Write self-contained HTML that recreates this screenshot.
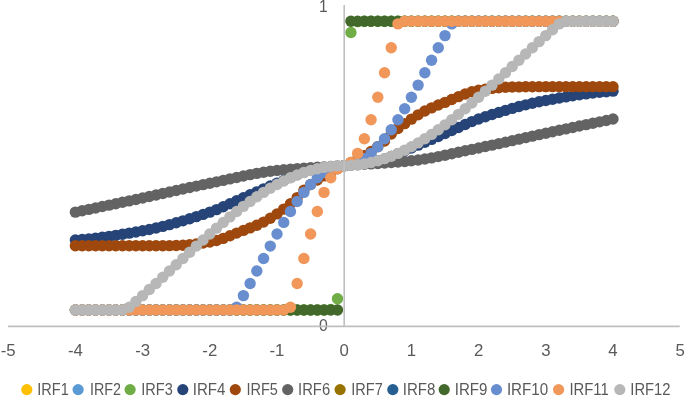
<!DOCTYPE html>
<html><head><meta charset="utf-8"><style>
html,body{margin:0;padding:0;background:#fff;}
svg{display:block;will-change:transform;}
text{font-family:"Liberation Sans",sans-serif;fill:#595959;}
</style></head><body>
<svg width="685" height="396" viewBox="0 0 685 396">
<rect width="685" height="396" fill="#fff"/>
<g font-size="16.8">
<text x="8.2" y="355.8" text-anchor="middle">-5</text><text x="75.4" y="355.8" text-anchor="middle">-4</text><text x="142.6" y="355.8" text-anchor="middle">-3</text><text x="209.8" y="355.8" text-anchor="middle">-2</text><text x="277.0" y="355.8" text-anchor="middle">-1</text><text x="344.2" y="355.8" text-anchor="middle">0</text><text x="411.4" y="355.8" text-anchor="middle">1</text><text x="478.6" y="355.8" text-anchor="middle">2</text><text x="545.8" y="355.8" text-anchor="middle">3</text><text x="613.0" y="355.8" text-anchor="middle">4</text><text x="680.2" y="355.8" text-anchor="middle">5</text>
<text x="327.6" y="11.9" text-anchor="end" font-size="15.6">1</text>
<text x="327.8" y="331.2" text-anchor="end" font-size="15.8">0</text>
</g>
<g fill="#70AD47"><circle cx="75.40" cy="310.00" r="5.7"/><circle cx="82.12" cy="310.00" r="5.7"/><circle cx="88.84" cy="310.00" r="5.7"/><circle cx="95.56" cy="310.00" r="5.7"/><circle cx="102.28" cy="310.00" r="5.7"/><circle cx="109.00" cy="310.00" r="5.7"/><circle cx="115.72" cy="310.00" r="5.7"/><circle cx="122.44" cy="310.00" r="5.7"/><circle cx="129.16" cy="310.00" r="5.7"/><circle cx="135.88" cy="310.00" r="5.7"/><circle cx="142.60" cy="310.00" r="5.7"/><circle cx="149.32" cy="310.00" r="5.7"/><circle cx="156.04" cy="310.00" r="5.7"/><circle cx="162.76" cy="310.00" r="5.7"/><circle cx="169.48" cy="310.00" r="5.7"/><circle cx="176.20" cy="310.00" r="5.7"/><circle cx="182.92" cy="310.00" r="5.7"/><circle cx="189.64" cy="310.00" r="5.7"/><circle cx="196.36" cy="310.00" r="5.7"/><circle cx="203.08" cy="310.00" r="5.7"/><circle cx="209.80" cy="310.00" r="5.7"/><circle cx="216.52" cy="310.00" r="5.7"/><circle cx="223.24" cy="310.00" r="5.7"/><circle cx="229.96" cy="310.00" r="5.7"/><circle cx="236.68" cy="310.00" r="5.7"/><circle cx="243.40" cy="310.00" r="5.7"/><circle cx="250.12" cy="310.00" r="5.7"/><circle cx="256.84" cy="310.00" r="5.7"/><circle cx="263.56" cy="310.00" r="5.7"/><circle cx="270.28" cy="310.00" r="5.7"/><circle cx="277.00" cy="310.00" r="5.7"/><circle cx="283.72" cy="310.00" r="5.7"/><circle cx="290.44" cy="310.00" r="5.7"/><circle cx="297.16" cy="310.00" r="5.7"/><circle cx="303.88" cy="310.00" r="5.7"/><circle cx="310.60" cy="310.00" r="5.7"/><circle cx="317.32" cy="310.00" r="5.7"/><circle cx="324.04" cy="309.99" r="5.7"/><circle cx="330.76" cy="309.53" r="5.7"/><circle cx="337.48" cy="298.69" r="5.7"/><circle cx="344.20" cy="165.60" r="5.7"/><circle cx="350.92" cy="32.51" r="5.7"/><circle cx="357.64" cy="21.67" r="5.7"/><circle cx="364.36" cy="21.21" r="5.7"/><circle cx="371.08" cy="21.20" r="5.7"/><circle cx="377.80" cy="21.20" r="5.7"/><circle cx="384.52" cy="21.20" r="5.7"/><circle cx="391.24" cy="21.20" r="5.7"/><circle cx="397.96" cy="21.20" r="5.7"/><circle cx="404.68" cy="21.20" r="5.7"/><circle cx="411.40" cy="21.20" r="5.7"/><circle cx="418.12" cy="21.20" r="5.7"/><circle cx="424.84" cy="21.19" r="5.7"/><circle cx="431.56" cy="21.19" r="5.7"/><circle cx="438.28" cy="21.19" r="5.7"/><circle cx="445.00" cy="21.19" r="5.7"/><circle cx="451.72" cy="21.19" r="5.7"/><circle cx="458.44" cy="21.19" r="5.7"/><circle cx="465.16" cy="21.19" r="5.7"/><circle cx="471.88" cy="21.19" r="5.7"/><circle cx="478.60" cy="21.19" r="5.7"/><circle cx="485.32" cy="21.19" r="5.7"/><circle cx="492.04" cy="21.19" r="5.7"/><circle cx="498.76" cy="21.19" r="5.7"/><circle cx="505.48" cy="21.19" r="5.7"/><circle cx="512.20" cy="21.19" r="5.7"/><circle cx="518.92" cy="21.19" r="5.7"/><circle cx="525.64" cy="21.19" r="5.7"/><circle cx="532.36" cy="21.19" r="5.7"/><circle cx="539.08" cy="21.19" r="5.7"/><circle cx="545.80" cy="21.19" r="5.7"/><circle cx="552.52" cy="21.19" r="5.7"/><circle cx="559.24" cy="21.19" r="5.7"/><circle cx="565.96" cy="21.19" r="5.7"/><circle cx="572.68" cy="21.19" r="5.7"/><circle cx="579.40" cy="21.19" r="5.7"/><circle cx="586.12" cy="21.19" r="5.7"/><circle cx="592.84" cy="21.19" r="5.7"/><circle cx="599.56" cy="21.19" r="5.7"/><circle cx="606.28" cy="21.19" r="5.7"/><circle cx="613.00" cy="21.19" r="5.7"/></g><g fill="#264478"><circle cx="75.40" cy="240.05" r="5.7"/><circle cx="82.12" cy="239.52" r="5.7"/><circle cx="88.84" cy="238.88" r="5.7"/><circle cx="95.56" cy="238.14" r="5.7"/><circle cx="102.28" cy="237.29" r="5.7"/><circle cx="109.00" cy="236.37" r="5.7"/><circle cx="115.72" cy="235.36" r="5.7"/><circle cx="122.44" cy="234.28" r="5.7"/><circle cx="129.16" cy="233.15" r="5.7"/><circle cx="135.88" cy="231.97" r="5.7"/><circle cx="142.60" cy="230.74" r="5.7"/><circle cx="149.32" cy="229.43" r="5.7"/><circle cx="156.04" cy="227.96" r="5.7"/><circle cx="162.76" cy="226.36" r="5.7"/><circle cx="169.48" cy="224.63" r="5.7"/><circle cx="176.20" cy="222.78" r="5.7"/><circle cx="182.92" cy="220.83" r="5.7"/><circle cx="189.64" cy="218.78" r="5.7"/><circle cx="196.36" cy="216.64" r="5.7"/><circle cx="203.08" cy="214.42" r="5.7"/><circle cx="209.80" cy="212.13" r="5.7"/><circle cx="216.52" cy="209.61" r="5.7"/><circle cx="223.24" cy="206.76" r="5.7"/><circle cx="229.96" cy="203.74" r="5.7"/><circle cx="236.68" cy="200.67" r="5.7"/><circle cx="243.40" cy="197.69" r="5.7"/><circle cx="250.12" cy="194.77" r="5.7"/><circle cx="256.84" cy="191.83" r="5.7"/><circle cx="263.56" cy="188.90" r="5.7"/><circle cx="270.28" cy="186.03" r="5.7"/><circle cx="277.00" cy="183.25" r="5.7"/><circle cx="283.72" cy="180.40" r="5.7"/><circle cx="290.44" cy="177.45" r="5.7"/><circle cx="297.16" cy="174.64" r="5.7"/><circle cx="303.88" cy="172.21" r="5.7"/><circle cx="310.60" cy="170.41" r="5.7"/><circle cx="317.32" cy="169.17" r="5.7"/><circle cx="324.04" cy="168.17" r="5.7"/><circle cx="330.76" cy="167.32" r="5.7"/><circle cx="337.48" cy="166.49" r="5.7"/><circle cx="344.20" cy="165.60" r="5.7"/><circle cx="350.92" cy="164.71" r="5.7"/><circle cx="357.64" cy="163.88" r="5.7"/><circle cx="364.36" cy="163.03" r="5.7"/><circle cx="371.08" cy="162.03" r="5.7"/><circle cx="377.80" cy="160.79" r="5.7"/><circle cx="384.52" cy="158.99" r="5.7"/><circle cx="391.24" cy="156.56" r="5.7"/><circle cx="397.96" cy="153.75" r="5.7"/><circle cx="404.68" cy="150.80" r="5.7"/><circle cx="411.40" cy="147.95" r="5.7"/><circle cx="418.12" cy="145.17" r="5.7"/><circle cx="424.84" cy="142.30" r="5.7"/><circle cx="431.56" cy="139.37" r="5.7"/><circle cx="438.28" cy="136.43" r="5.7"/><circle cx="445.00" cy="133.51" r="5.7"/><circle cx="451.72" cy="130.53" r="5.7"/><circle cx="458.44" cy="127.46" r="5.7"/><circle cx="465.16" cy="124.44" r="5.7"/><circle cx="471.88" cy="121.59" r="5.7"/><circle cx="478.60" cy="119.07" r="5.7"/><circle cx="485.32" cy="116.78" r="5.7"/><circle cx="492.04" cy="114.56" r="5.7"/><circle cx="498.76" cy="112.42" r="5.7"/><circle cx="505.48" cy="110.37" r="5.7"/><circle cx="512.20" cy="108.42" r="5.7"/><circle cx="518.92" cy="106.57" r="5.7"/><circle cx="525.64" cy="104.84" r="5.7"/><circle cx="532.36" cy="103.24" r="5.7"/><circle cx="539.08" cy="101.77" r="5.7"/><circle cx="545.80" cy="100.46" r="5.7"/><circle cx="552.52" cy="99.23" r="5.7"/><circle cx="559.24" cy="98.05" r="5.7"/><circle cx="565.96" cy="96.92" r="5.7"/><circle cx="572.68" cy="95.84" r="5.7"/><circle cx="579.40" cy="94.83" r="5.7"/><circle cx="586.12" cy="93.91" r="5.7"/><circle cx="592.84" cy="93.06" r="5.7"/><circle cx="599.56" cy="92.32" r="5.7"/><circle cx="606.28" cy="91.68" r="5.7"/><circle cx="613.00" cy="91.15" r="5.7"/></g><g fill="#9E480E"><circle cx="75.40" cy="245.82" r="5.7"/><circle cx="82.12" cy="245.82" r="5.7"/><circle cx="88.84" cy="245.82" r="5.7"/><circle cx="95.56" cy="245.82" r="5.7"/><circle cx="102.28" cy="245.82" r="5.7"/><circle cx="109.00" cy="245.82" r="5.7"/><circle cx="115.72" cy="245.82" r="5.7"/><circle cx="122.44" cy="245.82" r="5.7"/><circle cx="129.16" cy="245.82" r="5.7"/><circle cx="135.88" cy="245.82" r="5.7"/><circle cx="142.60" cy="245.82" r="5.7"/><circle cx="149.32" cy="245.81" r="5.7"/><circle cx="156.04" cy="245.77" r="5.7"/><circle cx="162.76" cy="245.70" r="5.7"/><circle cx="169.48" cy="245.61" r="5.7"/><circle cx="176.20" cy="245.50" r="5.7"/><circle cx="182.92" cy="245.23" r="5.7"/><circle cx="189.64" cy="244.70" r="5.7"/><circle cx="196.36" cy="243.94" r="5.7"/><circle cx="203.08" cy="243.01" r="5.7"/><circle cx="209.80" cy="241.97" r="5.7"/><circle cx="216.52" cy="240.49" r="5.7"/><circle cx="223.24" cy="238.35" r="5.7"/><circle cx="229.96" cy="235.80" r="5.7"/><circle cx="236.68" cy="233.08" r="5.7"/><circle cx="243.40" cy="230.42" r="5.7"/><circle cx="250.12" cy="227.88" r="5.7"/><circle cx="256.84" cy="225.18" r="5.7"/><circle cx="263.56" cy="222.08" r="5.7"/><circle cx="270.28" cy="218.31" r="5.7"/><circle cx="277.00" cy="213.91" r="5.7"/><circle cx="283.72" cy="209.10" r="5.7"/><circle cx="290.44" cy="203.79" r="5.7"/><circle cx="297.16" cy="197.61" r="5.7"/><circle cx="303.88" cy="190.26" r="5.7"/><circle cx="310.60" cy="184.58" r="5.7"/><circle cx="317.32" cy="179.94" r="5.7"/><circle cx="324.04" cy="175.86" r="5.7"/><circle cx="330.76" cy="172.12" r="5.7"/><circle cx="337.48" cy="168.80" r="5.7"/><circle cx="344.20" cy="165.60" r="5.7"/><circle cx="350.92" cy="162.50" r="5.7"/><circle cx="357.64" cy="159.35" r="5.7"/><circle cx="364.36" cy="155.65" r="5.7"/><circle cx="371.08" cy="151.42" r="5.7"/><circle cx="377.80" cy="146.63" r="5.7"/><circle cx="384.52" cy="141.01" r="5.7"/><circle cx="391.24" cy="134.07" r="5.7"/><circle cx="397.96" cy="128.46" r="5.7"/><circle cx="404.68" cy="123.63" r="5.7"/><circle cx="411.40" cy="119.15" r="5.7"/><circle cx="418.12" cy="114.84" r="5.7"/><circle cx="424.84" cy="111.05" r="5.7"/><circle cx="431.56" cy="107.88" r="5.7"/><circle cx="438.28" cy="105.05" r="5.7"/><circle cx="445.00" cy="102.38" r="5.7"/><circle cx="451.72" cy="99.57" r="5.7"/><circle cx="458.44" cy="96.66" r="5.7"/><circle cx="465.16" cy="93.93" r="5.7"/><circle cx="471.88" cy="91.68" r="5.7"/><circle cx="478.60" cy="90.19" r="5.7"/><circle cx="485.32" cy="89.22" r="5.7"/><circle cx="492.04" cy="88.38" r="5.7"/><circle cx="498.76" cy="87.71" r="5.7"/><circle cx="505.48" cy="87.23" r="5.7"/><circle cx="512.20" cy="86.98" r="5.7"/><circle cx="518.92" cy="86.87" r="5.7"/><circle cx="525.64" cy="86.78" r="5.7"/><circle cx="532.36" cy="86.72" r="5.7"/><circle cx="539.08" cy="86.67" r="5.7"/><circle cx="545.80" cy="86.66" r="5.7"/><circle cx="552.52" cy="86.66" r="5.7"/><circle cx="559.24" cy="86.66" r="5.7"/><circle cx="565.96" cy="86.66" r="5.7"/><circle cx="572.68" cy="86.66" r="5.7"/><circle cx="579.40" cy="86.66" r="5.7"/><circle cx="586.12" cy="86.66" r="5.7"/><circle cx="592.84" cy="86.66" r="5.7"/><circle cx="599.56" cy="86.66" r="5.7"/><circle cx="606.28" cy="86.66" r="5.7"/><circle cx="613.00" cy="86.66" r="5.7"/></g><g fill="#636363"><circle cx="75.40" cy="212.13" r="5.7"/><circle cx="82.12" cy="210.75" r="5.7"/><circle cx="88.84" cy="209.36" r="5.7"/><circle cx="95.56" cy="207.96" r="5.7"/><circle cx="102.28" cy="206.56" r="5.7"/><circle cx="109.00" cy="205.15" r="5.7"/><circle cx="115.72" cy="203.73" r="5.7"/><circle cx="122.44" cy="202.31" r="5.7"/><circle cx="129.16" cy="200.89" r="5.7"/><circle cx="135.88" cy="199.45" r="5.7"/><circle cx="142.60" cy="198.01" r="5.7"/><circle cx="149.32" cy="196.55" r="5.7"/><circle cx="156.04" cy="195.07" r="5.7"/><circle cx="162.76" cy="193.57" r="5.7"/><circle cx="169.48" cy="192.05" r="5.7"/><circle cx="176.20" cy="190.54" r="5.7"/><circle cx="182.92" cy="189.04" r="5.7"/><circle cx="189.64" cy="187.55" r="5.7"/><circle cx="196.36" cy="186.08" r="5.7"/><circle cx="203.08" cy="184.65" r="5.7"/><circle cx="209.80" cy="183.25" r="5.7"/><circle cx="216.52" cy="181.84" r="5.7"/><circle cx="223.24" cy="180.38" r="5.7"/><circle cx="229.96" cy="178.90" r="5.7"/><circle cx="236.68" cy="177.43" r="5.7"/><circle cx="243.40" cy="175.99" r="5.7"/><circle cx="250.12" cy="174.62" r="5.7"/><circle cx="256.84" cy="173.35" r="5.7"/><circle cx="263.56" cy="172.21" r="5.7"/><circle cx="270.28" cy="171.22" r="5.7"/><circle cx="277.00" cy="170.41" r="5.7"/><circle cx="283.72" cy="169.75" r="5.7"/><circle cx="290.44" cy="169.17" r="5.7"/><circle cx="297.16" cy="168.65" r="5.7"/><circle cx="303.88" cy="168.17" r="5.7"/><circle cx="310.60" cy="167.73" r="5.7"/><circle cx="317.32" cy="167.32" r="5.7"/><circle cx="324.04" cy="166.91" r="5.7"/><circle cx="330.76" cy="166.49" r="5.7"/><circle cx="337.48" cy="166.06" r="5.7"/><circle cx="344.20" cy="165.60" r="5.7"/><circle cx="350.92" cy="165.14" r="5.7"/><circle cx="357.64" cy="164.71" r="5.7"/><circle cx="364.36" cy="164.29" r="5.7"/><circle cx="371.08" cy="163.88" r="5.7"/><circle cx="377.80" cy="163.47" r="5.7"/><circle cx="384.52" cy="163.03" r="5.7"/><circle cx="391.24" cy="162.55" r="5.7"/><circle cx="397.96" cy="162.03" r="5.7"/><circle cx="404.68" cy="161.45" r="5.7"/><circle cx="411.40" cy="160.79" r="5.7"/><circle cx="418.12" cy="159.98" r="5.7"/><circle cx="424.84" cy="158.99" r="5.7"/><circle cx="431.56" cy="157.85" r="5.7"/><circle cx="438.28" cy="156.58" r="5.7"/><circle cx="445.00" cy="155.21" r="5.7"/><circle cx="451.72" cy="153.77" r="5.7"/><circle cx="458.44" cy="152.30" r="5.7"/><circle cx="465.16" cy="150.82" r="5.7"/><circle cx="471.88" cy="149.36" r="5.7"/><circle cx="478.60" cy="147.95" r="5.7"/><circle cx="485.32" cy="146.55" r="5.7"/><circle cx="492.04" cy="145.12" r="5.7"/><circle cx="498.76" cy="143.65" r="5.7"/><circle cx="505.48" cy="142.16" r="5.7"/><circle cx="512.20" cy="140.66" r="5.7"/><circle cx="518.92" cy="139.15" r="5.7"/><circle cx="525.64" cy="137.63" r="5.7"/><circle cx="532.36" cy="136.13" r="5.7"/><circle cx="539.08" cy="134.65" r="5.7"/><circle cx="545.80" cy="133.19" r="5.7"/><circle cx="552.52" cy="131.75" r="5.7"/><circle cx="559.24" cy="130.31" r="5.7"/><circle cx="565.96" cy="128.89" r="5.7"/><circle cx="572.68" cy="127.47" r="5.7"/><circle cx="579.40" cy="126.05" r="5.7"/><circle cx="586.12" cy="124.64" r="5.7"/><circle cx="592.84" cy="123.24" r="5.7"/><circle cx="599.56" cy="121.84" r="5.7"/><circle cx="606.28" cy="120.45" r="5.7"/><circle cx="613.00" cy="119.07" r="5.7"/></g><g fill="#43682B"><circle cx="75.40" cy="310.00" r="5.7"/><circle cx="82.12" cy="310.00" r="5.7"/><circle cx="88.84" cy="310.00" r="5.7"/><circle cx="95.56" cy="310.00" r="5.7"/><circle cx="102.28" cy="310.00" r="5.7"/><circle cx="109.00" cy="310.00" r="5.7"/><circle cx="115.72" cy="310.00" r="5.7"/><circle cx="122.44" cy="310.00" r="5.7"/><circle cx="129.16" cy="310.00" r="5.7"/><circle cx="135.88" cy="310.00" r="5.7"/><circle cx="142.60" cy="310.00" r="5.7"/><circle cx="149.32" cy="310.00" r="5.7"/><circle cx="156.04" cy="310.00" r="5.7"/><circle cx="162.76" cy="310.00" r="5.7"/><circle cx="169.48" cy="310.00" r="5.7"/><circle cx="176.20" cy="310.00" r="5.7"/><circle cx="182.92" cy="310.00" r="5.7"/><circle cx="189.64" cy="310.00" r="5.7"/><circle cx="196.36" cy="310.00" r="5.7"/><circle cx="203.08" cy="310.00" r="5.7"/><circle cx="209.80" cy="310.00" r="5.7"/><circle cx="216.52" cy="310.00" r="5.7"/><circle cx="223.24" cy="310.00" r="5.7"/><circle cx="229.96" cy="310.00" r="5.7"/><circle cx="236.68" cy="310.00" r="5.7"/><circle cx="243.40" cy="310.00" r="5.7"/><circle cx="250.12" cy="310.00" r="5.7"/><circle cx="256.84" cy="310.00" r="5.7"/><circle cx="263.56" cy="310.00" r="5.7"/><circle cx="270.28" cy="310.00" r="5.7"/><circle cx="277.00" cy="310.00" r="5.7"/><circle cx="283.72" cy="310.00" r="5.7"/><circle cx="290.44" cy="310.00" r="5.7"/><circle cx="297.16" cy="310.00" r="5.7"/><circle cx="303.88" cy="310.00" r="5.7"/><circle cx="310.60" cy="310.00" r="5.7"/><circle cx="317.32" cy="310.00" r="5.7"/><circle cx="324.04" cy="310.00" r="5.7"/><circle cx="330.76" cy="310.00" r="5.7"/><circle cx="337.48" cy="310.00" r="5.7"/><circle cx="344.20" cy="165.60" r="5.7"/><circle cx="350.92" cy="21.20" r="5.7"/><circle cx="357.64" cy="21.20" r="5.7"/><circle cx="364.36" cy="21.20" r="5.7"/><circle cx="371.08" cy="21.20" r="5.7"/><circle cx="377.80" cy="21.20" r="5.7"/><circle cx="384.52" cy="21.20" r="5.7"/><circle cx="391.24" cy="21.20" r="5.7"/><circle cx="397.96" cy="21.20" r="5.7"/><circle cx="404.68" cy="21.20" r="5.7"/><circle cx="411.40" cy="21.20" r="5.7"/><circle cx="418.12" cy="21.20" r="5.7"/><circle cx="424.84" cy="21.20" r="5.7"/><circle cx="431.56" cy="21.20" r="5.7"/><circle cx="438.28" cy="21.20" r="5.7"/><circle cx="445.00" cy="21.20" r="5.7"/><circle cx="451.72" cy="21.20" r="5.7"/><circle cx="458.44" cy="21.20" r="5.7"/><circle cx="465.16" cy="21.20" r="5.7"/><circle cx="471.88" cy="21.20" r="5.7"/><circle cx="478.60" cy="21.20" r="5.7"/><circle cx="485.32" cy="21.20" r="5.7"/><circle cx="492.04" cy="21.20" r="5.7"/><circle cx="498.76" cy="21.20" r="5.7"/><circle cx="505.48" cy="21.20" r="5.7"/><circle cx="512.20" cy="21.20" r="5.7"/><circle cx="518.92" cy="21.20" r="5.7"/><circle cx="525.64" cy="21.20" r="5.7"/><circle cx="532.36" cy="21.20" r="5.7"/><circle cx="539.08" cy="21.20" r="5.7"/><circle cx="545.80" cy="21.20" r="5.7"/><circle cx="552.52" cy="21.20" r="5.7"/><circle cx="559.24" cy="21.20" r="5.7"/><circle cx="565.96" cy="21.20" r="5.7"/><circle cx="572.68" cy="21.20" r="5.7"/><circle cx="579.40" cy="21.20" r="5.7"/><circle cx="586.12" cy="21.20" r="5.7"/><circle cx="592.84" cy="21.20" r="5.7"/><circle cx="599.56" cy="21.20" r="5.7"/><circle cx="606.28" cy="21.20" r="5.7"/><circle cx="613.00" cy="21.20" r="5.7"/></g><g fill="#698ED0"><circle cx="75.40" cy="310.00" r="5.7"/><circle cx="82.12" cy="310.00" r="5.7"/><circle cx="88.84" cy="310.00" r="5.7"/><circle cx="95.56" cy="310.00" r="5.7"/><circle cx="102.28" cy="310.00" r="5.7"/><circle cx="109.00" cy="310.00" r="5.7"/><circle cx="115.72" cy="310.00" r="5.7"/><circle cx="122.44" cy="310.00" r="5.7"/><circle cx="129.16" cy="310.00" r="5.7"/><circle cx="135.88" cy="310.00" r="5.7"/><circle cx="142.60" cy="310.00" r="5.7"/><circle cx="149.32" cy="310.00" r="5.7"/><circle cx="156.04" cy="310.00" r="5.7"/><circle cx="162.76" cy="310.00" r="5.7"/><circle cx="169.48" cy="310.00" r="5.7"/><circle cx="176.20" cy="310.00" r="5.7"/><circle cx="182.92" cy="310.00" r="5.7"/><circle cx="189.64" cy="310.00" r="5.7"/><circle cx="196.36" cy="310.00" r="5.7"/><circle cx="203.08" cy="310.00" r="5.7"/><circle cx="209.80" cy="310.00" r="5.7"/><circle cx="216.52" cy="310.00" r="5.7"/><circle cx="223.24" cy="310.00" r="5.7"/><circle cx="229.96" cy="310.00" r="5.7"/><circle cx="236.68" cy="307.31" r="5.7"/><circle cx="243.40" cy="295.60" r="5.7"/><circle cx="250.12" cy="283.43" r="5.7"/><circle cx="256.84" cy="270.99" r="5.7"/><circle cx="263.56" cy="258.48" r="5.7"/><circle cx="270.28" cy="246.08" r="5.7"/><circle cx="277.00" cy="234.00" r="5.7"/><circle cx="283.72" cy="222.42" r="5.7"/><circle cx="290.44" cy="211.51" r="5.7"/><circle cx="297.16" cy="201.45" r="5.7"/><circle cx="303.88" cy="192.39" r="5.7"/><circle cx="310.60" cy="184.47" r="5.7"/><circle cx="317.32" cy="177.82" r="5.7"/><circle cx="324.04" cy="172.54" r="5.7"/><circle cx="330.76" cy="168.70" r="5.7"/><circle cx="337.48" cy="166.38" r="5.7"/><circle cx="344.20" cy="165.60" r="5.7"/><circle cx="350.92" cy="164.82" r="5.7"/><circle cx="357.64" cy="162.50" r="5.7"/><circle cx="364.36" cy="158.66" r="5.7"/><circle cx="371.08" cy="153.38" r="5.7"/><circle cx="377.80" cy="146.73" r="5.7"/><circle cx="384.52" cy="138.81" r="5.7"/><circle cx="391.24" cy="129.75" r="5.7"/><circle cx="397.96" cy="119.69" r="5.7"/><circle cx="404.68" cy="108.78" r="5.7"/><circle cx="411.40" cy="97.20" r="5.7"/><circle cx="418.12" cy="85.12" r="5.7"/><circle cx="424.84" cy="72.72" r="5.7"/><circle cx="431.56" cy="60.21" r="5.7"/><circle cx="438.28" cy="47.77" r="5.7"/><circle cx="445.00" cy="35.60" r="5.7"/><circle cx="451.72" cy="23.89" r="5.7"/><circle cx="458.44" cy="21.20" r="5.7"/><circle cx="465.16" cy="21.20" r="5.7"/><circle cx="471.88" cy="21.20" r="5.7"/><circle cx="478.60" cy="21.20" r="5.7"/><circle cx="485.32" cy="21.20" r="5.7"/><circle cx="492.04" cy="21.20" r="5.7"/><circle cx="498.76" cy="21.20" r="5.7"/><circle cx="505.48" cy="21.20" r="5.7"/><circle cx="512.20" cy="21.20" r="5.7"/><circle cx="518.92" cy="21.20" r="5.7"/><circle cx="525.64" cy="21.20" r="5.7"/><circle cx="532.36" cy="21.20" r="5.7"/><circle cx="539.08" cy="21.20" r="5.7"/><circle cx="545.80" cy="21.20" r="5.7"/><circle cx="552.52" cy="21.20" r="5.7"/><circle cx="559.24" cy="21.20" r="5.7"/><circle cx="565.96" cy="21.20" r="5.7"/><circle cx="572.68" cy="21.20" r="5.7"/><circle cx="579.40" cy="21.20" r="5.7"/><circle cx="586.12" cy="21.20" r="5.7"/><circle cx="592.84" cy="21.20" r="5.7"/><circle cx="599.56" cy="21.20" r="5.7"/><circle cx="606.28" cy="21.20" r="5.7"/><circle cx="613.00" cy="21.20" r="5.7"/></g><g fill="#F1975A"><circle cx="75.40" cy="310.00" r="5.7"/><circle cx="82.12" cy="310.00" r="5.7"/><circle cx="88.84" cy="310.00" r="5.7"/><circle cx="95.56" cy="310.00" r="5.7"/><circle cx="102.28" cy="310.00" r="5.7"/><circle cx="109.00" cy="310.00" r="5.7"/><circle cx="115.72" cy="310.00" r="5.7"/><circle cx="122.44" cy="310.00" r="5.7"/><circle cx="129.16" cy="310.00" r="5.7"/><circle cx="135.88" cy="310.00" r="5.7"/><circle cx="142.60" cy="310.00" r="5.7"/><circle cx="149.32" cy="310.00" r="5.7"/><circle cx="156.04" cy="310.00" r="5.7"/><circle cx="162.76" cy="310.00" r="5.7"/><circle cx="169.48" cy="310.00" r="5.7"/><circle cx="176.20" cy="310.00" r="5.7"/><circle cx="182.92" cy="310.00" r="5.7"/><circle cx="189.64" cy="310.00" r="5.7"/><circle cx="196.36" cy="310.00" r="5.7"/><circle cx="203.08" cy="310.00" r="5.7"/><circle cx="209.80" cy="310.00" r="5.7"/><circle cx="216.52" cy="310.00" r="5.7"/><circle cx="223.24" cy="310.00" r="5.7"/><circle cx="229.96" cy="310.00" r="5.7"/><circle cx="236.68" cy="310.00" r="5.7"/><circle cx="243.40" cy="310.00" r="5.7"/><circle cx="250.12" cy="310.00" r="5.7"/><circle cx="256.84" cy="310.00" r="5.7"/><circle cx="263.56" cy="310.00" r="5.7"/><circle cx="270.28" cy="310.00" r="5.7"/><circle cx="277.00" cy="310.00" r="5.7"/><circle cx="283.72" cy="310.00" r="5.7"/><circle cx="290.44" cy="307.31" r="5.7"/><circle cx="297.16" cy="283.43" r="5.7"/><circle cx="303.88" cy="258.48" r="5.7"/><circle cx="310.60" cy="234.00" r="5.7"/><circle cx="317.32" cy="211.51" r="5.7"/><circle cx="324.04" cy="192.39" r="5.7"/><circle cx="330.76" cy="177.82" r="5.7"/><circle cx="337.48" cy="168.70" r="5.7"/><circle cx="344.20" cy="165.60" r="5.7"/><circle cx="350.92" cy="162.50" r="5.7"/><circle cx="357.64" cy="153.38" r="5.7"/><circle cx="364.36" cy="138.81" r="5.7"/><circle cx="371.08" cy="119.69" r="5.7"/><circle cx="377.80" cy="97.20" r="5.7"/><circle cx="384.52" cy="72.72" r="5.7"/><circle cx="391.24" cy="47.77" r="5.7"/><circle cx="397.96" cy="23.89" r="5.7"/><circle cx="404.68" cy="21.20" r="5.7"/><circle cx="411.40" cy="21.20" r="5.7"/><circle cx="418.12" cy="21.20" r="5.7"/><circle cx="424.84" cy="21.20" r="5.7"/><circle cx="431.56" cy="21.20" r="5.7"/><circle cx="438.28" cy="21.20" r="5.7"/><circle cx="445.00" cy="21.20" r="5.7"/><circle cx="451.72" cy="21.20" r="5.7"/><circle cx="458.44" cy="21.20" r="5.7"/><circle cx="465.16" cy="21.20" r="5.7"/><circle cx="471.88" cy="21.20" r="5.7"/><circle cx="478.60" cy="21.20" r="5.7"/><circle cx="485.32" cy="21.20" r="5.7"/><circle cx="492.04" cy="21.20" r="5.7"/><circle cx="498.76" cy="21.20" r="5.7"/><circle cx="505.48" cy="21.20" r="5.7"/><circle cx="512.20" cy="21.20" r="5.7"/><circle cx="518.92" cy="21.20" r="5.7"/><circle cx="525.64" cy="21.20" r="5.7"/><circle cx="532.36" cy="21.20" r="5.7"/><circle cx="539.08" cy="21.20" r="5.7"/><circle cx="545.80" cy="21.20" r="5.7"/><circle cx="552.52" cy="21.20" r="5.7"/><circle cx="559.24" cy="21.20" r="5.7"/><circle cx="565.96" cy="21.20" r="5.7"/><circle cx="572.68" cy="21.20" r="5.7"/><circle cx="579.40" cy="21.20" r="5.7"/><circle cx="586.12" cy="21.20" r="5.7"/><circle cx="592.84" cy="21.20" r="5.7"/><circle cx="599.56" cy="21.20" r="5.7"/><circle cx="606.28" cy="21.20" r="5.7"/><circle cx="613.00" cy="21.20" r="5.7"/></g><g fill="#B7B7B7"><circle cx="75.40" cy="310.00" r="5.7"/><circle cx="82.12" cy="310.00" r="5.7"/><circle cx="88.84" cy="310.00" r="5.7"/><circle cx="95.56" cy="310.00" r="5.7"/><circle cx="102.28" cy="310.00" r="5.7"/><circle cx="109.00" cy="310.00" r="5.7"/><circle cx="115.72" cy="310.00" r="5.7"/><circle cx="122.44" cy="310.00" r="5.7"/><circle cx="129.16" cy="307.31" r="5.7"/><circle cx="135.88" cy="301.52" r="5.7"/><circle cx="142.60" cy="295.60" r="5.7"/><circle cx="149.32" cy="289.56" r="5.7"/><circle cx="156.04" cy="283.43" r="5.7"/><circle cx="162.76" cy="277.23" r="5.7"/><circle cx="169.48" cy="270.99" r="5.7"/><circle cx="176.20" cy="264.73" r="5.7"/><circle cx="182.92" cy="258.48" r="5.7"/><circle cx="189.64" cy="252.25" r="5.7"/><circle cx="196.36" cy="246.08" r="5.7"/><circle cx="203.08" cy="239.99" r="5.7"/><circle cx="209.80" cy="234.00" r="5.7"/><circle cx="216.52" cy="228.14" r="5.7"/><circle cx="223.24" cy="222.42" r="5.7"/><circle cx="229.96" cy="216.87" r="5.7"/><circle cx="236.68" cy="211.51" r="5.7"/><circle cx="243.40" cy="206.36" r="5.7"/><circle cx="250.12" cy="201.45" r="5.7"/><circle cx="256.84" cy="196.78" r="5.7"/><circle cx="263.56" cy="192.39" r="5.7"/><circle cx="270.28" cy="188.28" r="5.7"/><circle cx="277.00" cy="184.47" r="5.7"/><circle cx="283.72" cy="180.98" r="5.7"/><circle cx="290.44" cy="177.82" r="5.7"/><circle cx="297.16" cy="175.00" r="5.7"/><circle cx="303.88" cy="172.54" r="5.7"/><circle cx="310.60" cy="170.43" r="5.7"/><circle cx="317.32" cy="168.70" r="5.7"/><circle cx="324.04" cy="167.35" r="5.7"/><circle cx="330.76" cy="166.38" r="5.7"/><circle cx="337.48" cy="165.79" r="5.7"/><circle cx="344.20" cy="165.60" r="5.7"/><circle cx="350.92" cy="165.41" r="5.7"/><circle cx="357.64" cy="164.82" r="5.7"/><circle cx="364.36" cy="163.85" r="5.7"/><circle cx="371.08" cy="162.50" r="5.7"/><circle cx="377.80" cy="160.77" r="5.7"/><circle cx="384.52" cy="158.66" r="5.7"/><circle cx="391.24" cy="156.20" r="5.7"/><circle cx="397.96" cy="153.38" r="5.7"/><circle cx="404.68" cy="150.22" r="5.7"/><circle cx="411.40" cy="146.73" r="5.7"/><circle cx="418.12" cy="142.92" r="5.7"/><circle cx="424.84" cy="138.81" r="5.7"/><circle cx="431.56" cy="134.42" r="5.7"/><circle cx="438.28" cy="129.75" r="5.7"/><circle cx="445.00" cy="124.84" r="5.7"/><circle cx="451.72" cy="119.69" r="5.7"/><circle cx="458.44" cy="114.33" r="5.7"/><circle cx="465.16" cy="108.78" r="5.7"/><circle cx="471.88" cy="103.06" r="5.7"/><circle cx="478.60" cy="97.20" r="5.7"/><circle cx="485.32" cy="91.21" r="5.7"/><circle cx="492.04" cy="85.12" r="5.7"/><circle cx="498.76" cy="78.95" r="5.7"/><circle cx="505.48" cy="72.72" r="5.7"/><circle cx="512.20" cy="66.47" r="5.7"/><circle cx="518.92" cy="60.21" r="5.7"/><circle cx="525.64" cy="53.97" r="5.7"/><circle cx="532.36" cy="47.77" r="5.7"/><circle cx="539.08" cy="41.64" r="5.7"/><circle cx="545.80" cy="35.60" r="5.7"/><circle cx="552.52" cy="29.68" r="5.7"/><circle cx="559.24" cy="23.89" r="5.7"/><circle cx="565.96" cy="21.20" r="5.7"/><circle cx="572.68" cy="21.20" r="5.7"/><circle cx="579.40" cy="21.20" r="5.7"/><circle cx="586.12" cy="21.20" r="5.7"/><circle cx="592.84" cy="21.20" r="5.7"/><circle cx="599.56" cy="21.20" r="5.7"/><circle cx="606.28" cy="21.20" r="5.7"/><circle cx="613.00" cy="21.20" r="5.7"/></g>
<line x1="8" y1="326.4" x2="679.7" y2="326.4" stroke="#BFBFBF" stroke-width="1.6"/>
<line x1="344.2" y1="5.1" x2="344.2" y2="326.4" stroke="#BFBFBF" stroke-width="1.6"/>
<g font-size="15.6">
<circle cx="26.8" cy="389.6" r="5.6" fill="#FFC000"/><text x="37.3" y="395.3" textLength="31.5" lengthAdjust="spacingAndGlyphs">IRF1</text><circle cx="78.1" cy="389.6" r="5.6" fill="#5B9BD5"/><text x="90.0" y="395.3" textLength="31.0" lengthAdjust="spacingAndGlyphs">IRF2</text><circle cx="130.1" cy="389.6" r="5.6" fill="#70AD47"/><text x="141.3" y="395.3" textLength="31.5" lengthAdjust="spacingAndGlyphs">IRF3</text><circle cx="182.8" cy="389.6" r="5.6" fill="#264478"/><text x="192.8" y="395.3" textLength="32.6" lengthAdjust="spacingAndGlyphs">IRF4</text><circle cx="235.3" cy="389.6" r="5.6" fill="#9E480E"/><text x="246.4" y="395.3" textLength="31.5" lengthAdjust="spacingAndGlyphs">IRF5</text><circle cx="287.7" cy="389.6" r="5.6" fill="#636363"/><text x="298.09999999999997" y="395.3" textLength="32.0" lengthAdjust="spacingAndGlyphs">IRF6</text><circle cx="340.1" cy="389.6" r="5.6" fill="#997300"/><text x="351.29999999999995" y="395.3" textLength="31.5" lengthAdjust="spacingAndGlyphs">IRF7</text><circle cx="392.8" cy="389.6" r="5.6" fill="#255E91"/><text x="402.79999999999995" y="395.3" textLength="32.6" lengthAdjust="spacingAndGlyphs">IRF8</text><circle cx="444.2" cy="389.6" r="5.6" fill="#43682B"/><text x="454.7" y="395.3" textLength="32.7" lengthAdjust="spacingAndGlyphs">IRF9</text><circle cx="496.5" cy="389.6" r="5.6" fill="#698ED0"/><text x="506.9" y="395.3" textLength="41.3" lengthAdjust="spacingAndGlyphs">IRF10</text><circle cx="558.6" cy="389.6" r="5.6" fill="#F1975A"/><text x="569.4" y="395.3" textLength="39.4" lengthAdjust="spacingAndGlyphs">IRF11</text><circle cx="619.8" cy="389.6" r="5.6" fill="#B7B7B7"/><text x="630.3" y="395.3" textLength="40.2" lengthAdjust="spacingAndGlyphs">IRF12</text>
</g>
</svg>
</body></html>
